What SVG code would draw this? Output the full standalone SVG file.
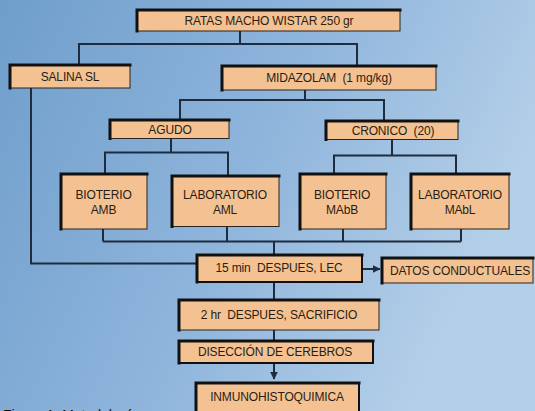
<svg xmlns="http://www.w3.org/2000/svg" width="535" height="411" viewBox="0 0 535 411">
  <defs>
    <linearGradient id="bg" x1="0" y1="0" x2="1" y2="0.35">
      <stop offset="0" stop-color="#6f9ecb"/>
      <stop offset="0.55" stop-color="#8fb5dc"/>
      <stop offset="1" stop-color="#b4cfe8"/>
    </linearGradient>
    <marker id="arr" viewBox="0 0 6 6" refX="5.5" refY="3" markerWidth="4" markerHeight="4" orient="auto">
      <path d="M0,0 L6,3 L0,6 z" fill="#1d2c3e"/>
    </marker>
    <style>
      .box { fill: #f4c292; stroke: #2a2420; stroke-width: 1; }
      .heavy { stroke: #111; stroke-width: 2; }
      .edge { fill: none; stroke: #111; stroke-width: 3; stroke-linecap: square; }
      .lbl { font-family: "Liberation Sans", Arial, sans-serif; font-size: 12px; letter-spacing: -0.15px; fill: #2a1d12; text-anchor: middle; }
      .con { fill: none; stroke: #1d2c3e; stroke-width: 2; }
      .cap { font-family: "Liberation Sans", Arial, sans-serif; font-size: 14px; fill: #111; }
    </style>
  </defs>

  <rect width="535" height="411" fill="url(#bg)"/>

  <!-- connectors -->
  <g id="connectors">
    <path class="con" d="M240,31 V44 M79,65 V44 H357 V66"/>
    <path class="con" d="M305,90 V100 M180,120 V100 H384 V121"/>
    <path class="con" d="M171,138 V152.5 M105,174 V152.5 H228 V176"/>
    <path class="con" d="M392,139 V155.5 M334,174 V155.5 H456 V174"/>
    <path class="con" d="M103,229 V241.5 M227,226 V241.5 M343,229 V241.5 M461,229 V241.5 M103,241.5 H461 M274,241.5 V255"/>
    <path class="con" d="M31,88 V263.5 H197"/>
    <path class="con" d="M362,269 H380" marker-end="url(#arr)"/>
    <path class="con" d="M274,282 V300 M274,330 V341"/>
    <path class="con" d="M274,363 V379" stroke-width="1.5" marker-end="url(#arr)"/>
  </g>

  <g id="n-ratas">
    <rect class="box" x="137" y="10" width="263" height="21"/>
    <path class="edge" d="M137,31 V10 H400"/>
    <text class="lbl" x="269" y="25">RATAS MACHO WISTAR 250 gr</text>
  </g>

  <g id="n-salina">
    <rect class="box" x="10" y="65" width="120" height="23"/>
    <path class="edge" d="M10,88 V65 H130"/>
    <text class="lbl" x="70" y="81">SALINA SL</text>
  </g>

  <g id="n-midazolam">
    <rect class="box" x="222" y="66" width="214" height="24"/>
    <path class="edge" d="M222,90 V66 H436"/>
    <text class="lbl" x="329" y="82" xml:space="preserve">MIDAZOLAM  (1 mg/kg)</text>
  </g>

  <g id="n-agudo">
    <rect class="box" x="110" y="120" width="119" height="18.5"/>
    <path class="edge" d="M110,138.5 V120 H229"/>
    <text class="lbl" x="170" y="134">AGUDO</text>
  </g>

  <g id="n-cronico">
    <rect class="box" x="326" y="121" width="132" height="18.5"/>
    <path class="edge" d="M326,139.5 V121 H458"/>
    <text class="lbl" x="393" y="135" xml:space="preserve">CRONICO  (20)</text>
  </g>

  <g id="n-amb">
    <rect class="box" x="61" y="174" width="86" height="55"/>
    <path class="edge" d="M61,229 V174 H147"/>
    <text class="lbl" x="103.5" y="199">BIOTERIO</text>
    <text class="lbl" x="103.5" y="214">AMB</text>
  </g>

  <g id="n-aml">
    <rect class="box" x="172" y="176" width="107" height="50.5"/>
    <path class="edge" d="M172,226.5 V176 H279"/>
    <text class="lbl" x="225" y="199">LABORATORIO</text>
    <text class="lbl" x="225" y="214">AML</text>
  </g>

  <g id="n-mabb">
    <rect class="box" x="300" y="174" width="86" height="55"/>
    <path class="edge" d="M300,229 V174 H386"/>
    <text class="lbl" x="342" y="199">BIOTERIO</text>
    <text class="lbl" x="342" y="214">MAbB</text>
  </g>

  <g id="n-mabl">
    <rect class="box" x="411" y="174" width="98" height="55"/>
    <path class="edge" d="M411,229 V174 H509"/>
    <text class="lbl" x="460" y="199">LABORATORIO</text>
    <text class="lbl" x="460" y="214">MAbL</text>
  </g>

  <g id="n-lec">
    <rect class="box heavy" x="197" y="255" width="165" height="27"/>
    <path class="edge" d="M197,282 V255 H362"/>
    <text class="lbl" x="279" y="272" xml:space="preserve">15 min  DESPUES, LEC</text>
  </g>

  <g id="n-datos">
    <rect class="box" x="382" y="258" width="151" height="25" stroke-width="2.5" stroke="#111"/>
    <path class="edge" d="M382,283 V258 H533"/>
    <text class="lbl" x="460" y="275">DATOS CONDUCTUALES</text>
  </g>

  <g id="n-sacrificio">
    <rect class="box" x="179" y="300" width="200" height="30"/>
    <path class="edge" d="M179,330 V300 H379"/>
    <text class="lbl" x="279" y="319" xml:space="preserve">2 hr  DESPUES, SACRIFICIO</text>
  </g>

  <g id="n-diseccion">
    <rect class="box heavy" x="179" y="341" width="194" height="22"/>
    <path class="edge" d="M179,363 V341 H373"/>
    <text class="lbl" x="275" y="356">DISECCIÓN DE CEREBROS</text>
  </g>

  <g id="n-inmuno">
    <rect class="box heavy" x="196" y="383" width="163" height="34"/>
    <path class="edge" d="M196,417 V383 H359"/>
    <text class="lbl" x="277" y="401">INMUNOHISTOQUIMICA</text>
  </g>

  <text class="cap" x="3" y="420">Figura 1. Metodología</text>
</svg>
